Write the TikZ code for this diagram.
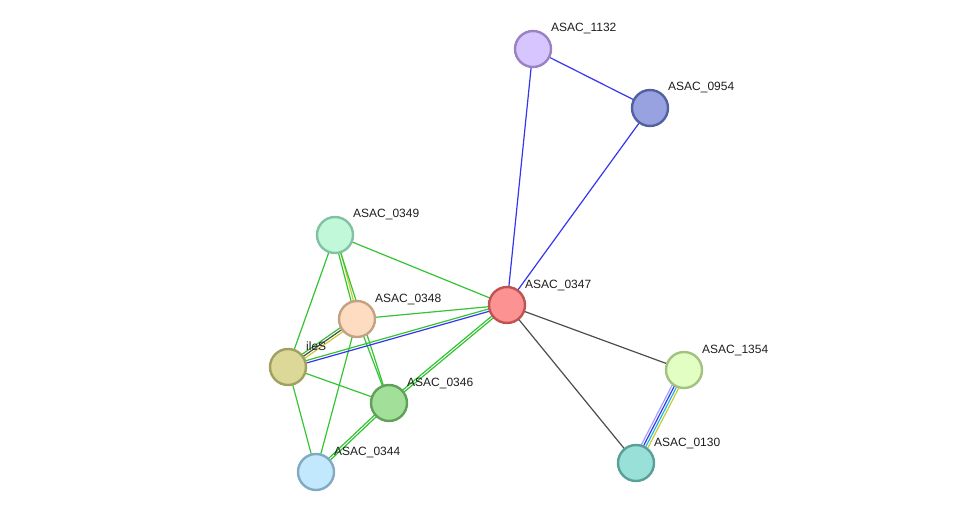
\documentclass[tikz,border=0pt]{standalone}
\usepackage{fontspec}
\setmainfont{Liberation Sans}
\usepackage{tikz}
\usetikzlibrary{calc,backgrounds}
\definecolor{ink}{HTML}{1E1E1E}
\definecolor{eGreen}{HTML}{33C433}
\definecolor{eBlue}{HTML}{3535F0}
\definecolor{eGray}{HTML}{4D4D4D}
\definecolor{eYellow}{HTML}{C6CC33}
\definecolor{eCyan}{HTML}{25B5E0}
\definecolor{eLav}{HTML}{A0A0FF}

\tikzset{
  prot/.style={circle,draw,line width=2.4pt,minimum size=36pt,inner sep=0pt},
  plabel/.style={anchor=base west,inner sep=0pt,text=ink,font=\fontsize{12}{14}\selectfont},
  edge/.style={line width=1.2pt},
}
% one protein: name, position, fill, rim, text
\newcommand{\prot}[6]{%
  \definecolor{#1fill}{HTML}{#4}\definecolor{#1rim}{HTML}{#5}%
  \node[prot,fill=#1fill,draw=#1rim] (#1) at (#2,#3) {};
  \node[plabel] (#1-l) at ($(#1)+(18,-17)$) {#6};}
% one line of a link, shifted sideways by #3
\newcommand{\link}[4]{%
  \draw[edge,#4] ($(#1.center)!#3!90:(#2.center)$) -- ($(#2.center)!#3!-90:(#1.center)$);}

\begin{document}
\begin{tikzpicture}[x=1pt,y=-1pt]
  \useasboundingbox (0,0) rectangle (976,518);
  \prot{p1132}{533}{49}{D6C5FF}{9A82C2}{ASAC\_1132}
  \prot{p0954}{650}{108}{98A2E0}{5560A0}{ASAC\_0954}
  \prot{p0349}{335}{235}{C2F8DA}{82C2A2}{ASAC\_0349}
  \prot{p0348}{357}{319}{FEDCC2}{C2A282}{ASAC\_0348}
  \prot{p0347}{507}{305}{FD9292}{C05252}{ASAC\_0347}
  \prot{ileS}{288}{367}{DCD898}{A0A060}{ileS}
  \prot{p0346}{389}{403}{A2E09A}{60A058}{ASAC\_0346}
  \prot{p0344}{316}{472}{C2E8FE}{82AAC2}{ASAC\_0344}
  \prot{p1354}{684}{370}{E2FEC2}{A2C282}{ASAC\_1354}
  \prot{p0130}{636}{463}{98E0D8}{58A098}{ASAC\_0130}

  \begin{scope}[on background layer]
    \link{p1132}{p0954}{0pt}{eBlue}
    \link{p1132}{p0347}{0pt}{eBlue}
    \link{p0954}{p0347}{0pt}{eBlue}
    \link{p0347}{p1354}{0pt}{eGray}
    \link{p0347}{p0130}{0pt}{eGray}
    \link{p1354}{p0130}{-3.6pt}{eLav}
    \link{p1354}{p0130}{-1.2pt}{eBlue}
    \link{p1354}{p0130}{1.2pt}{eCyan}
    \link{p1354}{p0130}{3.6pt}{eYellow}
    \link{p0349}{p0347}{0pt}{eGreen}
    \link{p0349}{ileS}{0pt}{eGreen}
    \link{p0349}{p0348}{-1.2pt}{eGreen}
    \link{p0349}{p0348}{1.2pt}{eYellow}
    \link{p0349}{p0346}{0pt}{eGreen}
    \link{p0348}{p0347}{0pt}{eGreen}
    \link{p0348}{p0346}{0pt}{eGreen}
    \link{p0348}{p0344}{0pt}{eGreen}
    \link{p0348}{ileS}{-2.4pt}{eGreen}
    \link{p0348}{ileS}{0pt}{eGray}
    \link{p0348}{ileS}{2.4pt}{eYellow}
    \link{ileS}{p0347}{1.2pt}{eGreen}
    \link{ileS}{p0347}{-1.2pt}{eBlue}
    \link{ileS}{p0346}{0pt}{eGreen}
    \link{ileS}{p0344}{0pt}{eGreen}
    \link{p0346}{p0347}{-1.2pt}{eGreen}
    \link{p0346}{p0347}{1.2pt}{eGreen}
    \link{p0346}{p0344}{-1.2pt}{eGreen}
    \link{p0346}{p0344}{1.2pt}{eGreen}
  \end{scope}
\end{tikzpicture}
\end{document}
